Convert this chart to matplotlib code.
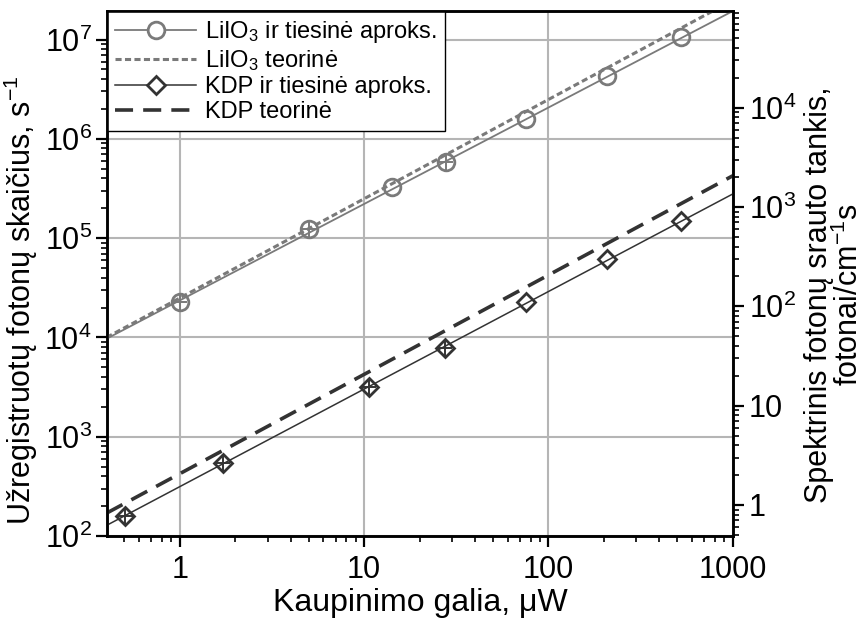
import numpy as np
import matplotlib
matplotlib.use("Agg")
import matplotlib.pyplot as plt
from matplotlib.ticker import FuncFormatter, LogLocator

plt.rcParams['font.family'] = ['Liberation Sans', 'DejaVu Sans']
plt.rcParams['mathtext.fontset'] = 'custom'
plt.rcParams['mathtext.rm'] = 'Liberation Sans'
plt.rcParams['mathtext.it'] = 'Liberation Sans:italic'
plt.rcParams['mathtext.bf'] = 'Liberation Sans:bold'

# measured points
lii_x = [1.0, 5.0, 14.2, 27.7, 76, 208, 524]
lii_y = [2.3e4, 1.23e5, 3.27e5, 5.86e5, 1.59e6, 4.32e6, 1.07e7]
kdp_x = [0.505, 1.71, 10.6, 27.4, 76, 208, 524]
kdp_y = [159, 546, 3.2e3, 7.9e3, 2.26e4, 6.1e4, 1.48e5]

# points with error bars (index), relative errors
lii_err_idx = [0, 1, 3]
kdp_err_idx = [0, 1, 2, 3]
rel_xerr = 0.10
rel_yerr = 0.18

# fit and theory lines (end points)
line_x = [0.4, 1000]
lii_fit = [9.7e3, 1.93e7]
lii_theory = [1.0e4, 2.48e7]
kdp_fit = [128, 2.78e5]
kdp_theory = [170, 4.24e5]

conv = 205.6  # left axis -> right axis
gray = '#7a7a7a'
dark = '#333333'

fig = plt.figure(figsize=(8.64, 6.19), dpi=100)
ax = fig.add_axes([0.124, 0.134, 0.724, 0.848])

ax.plot(line_x, lii_fit, color=gray, lw=1.3, zorder=3)
ax.plot(line_x, lii_theory, color=gray, lw=2.2, ls=(0, (2, 1.1)), zorder=3)
ax.plot(line_x, kdp_fit, color=dark, lw=1.1, zorder=3)
ax.plot(line_x, kdp_theory, color=dark, lw=2.6, ls=(0, (5, 2.8)), zorder=3)

for xs, ys, idx, c in [(lii_x, lii_y, lii_err_idx, gray), (kdp_x, kdp_y, kdp_err_idx, dark)]:
    ex = np.array([xs[i] for i in idx])
    ey = np.array([ys[i] for i in idx])
    ax.errorbar(ex, ey, xerr=[ex * rel_xerr, ex * rel_xerr], yerr=[ey * rel_yerr, ey * rel_yerr],
                fmt='none', ecolor=c, elinewidth=1.4, capsize=0, zorder=5)

ax.plot(lii_x, lii_y, ls='none', marker='o', ms=12, mfc='none', mec=gray, mew=2, zorder=6)
ax.plot(kdp_x, kdp_y, ls='none', marker='D', ms=9, mfc='none', mec=dark, mew=2, zorder=6)

# legend proxies
h1, = ax.plot([], [], color=gray, lw=1.3, marker='o', ms=12, mfc='white', mec=gray, mew=2)
h2, = ax.plot([], [], color=gray, lw=2.2, ls=(0, (2, 1.1)))
h3, = ax.plot([], [], color=dark, lw=1.1, marker='D', ms=9, mfc='white', mec=dark, mew=2)
h4, = ax.plot([], [], color=dark, lw=2.6, ls=(0, (5, 2.8)))
leg = ax.legend([h1, h2, h3, h4],
                ['LiIO$_3$ ir tiesinė aproks.', 'LiIO$_3$ teorinė',
                 'KDP ir tiesinė aproks.', 'KDP teorinė'],
                loc='upper left', bbox_to_anchor=(0, 1), borderaxespad=0,
                fontsize=17, handlelength=3.4, handletextpad=0.4, labelspacing=0.12,
                fancybox=False, framealpha=1, edgecolor='black', borderpad=0.35)
leg.get_frame().set_linewidth(1.0)
leg.set_zorder(10)

ax.set_xscale('log')
ax.set_yscale('log')
ax.set_xlim(0.403, 1000)
ax.set_ylim(100, 1.93e7)

ax.grid(True, which='major', color='#b5b5b5', lw=1.5)
ax.set_axisbelow(True)

ax.xaxis.set_major_formatter(FuncFormatter(lambda v, p: '%g' % v))
ax.yaxis.set_minor_locator(LogLocator(base=10, subs=np.arange(2, 10)))
ax.xaxis.set_minor_locator(LogLocator(base=10, subs=np.arange(2, 10)))
ax.tick_params(which='major', length=8, width=1.6, labelsize=22, direction='out')
ax.tick_params(which='minor', length=4, width=1.2, direction='out')
ax.tick_params(axis='x', pad=6)
ax.tick_params(axis='y', pad=3)
for s in ax.spines.values():
    s.set_linewidth(1.8)

ax.set_xlabel('Kaupinimo galia, μW', fontsize=23, labelpad=2)
ax.set_ylabel('Užregistruotų fotonų skaičius, s$^{-1}$', fontsize=22, labelpad=3)
ax.yaxis.label.set_y(0.45)

ax2 = ax.twinx()
ax2.set_yscale('log')
ax2.set_ylim(100 / conv, 1.93e7 / conv)
ax2.yaxis.set_minor_locator(LogLocator(base=10, subs=np.arange(2, 10)))


def right_fmt(v, p):
    e = int(round(np.log10(v)))
    if e <= 1:
        return '%g' % v
    return '$10^{%d}$' % e


ax2.yaxis.set_major_formatter(FuncFormatter(right_fmt))
ax2.tick_params(which='major', length=8, width=1.6, labelsize=22, direction='out')
ax2.tick_params(which='minor', length=4, width=1.2, direction='out')
for s in ax2.spines.values():
    s.set_linewidth(1.8)
ax2.set_ylabel('Spektrinis fotonų srauto tankis,\nfotonai/cm$^{-1}$s', fontsize=22,
               linespacing=0.95, labelpad=6)
ax2.yaxis.label.set_y(0.46)

fig.savefig('out.png', dpi=100)
